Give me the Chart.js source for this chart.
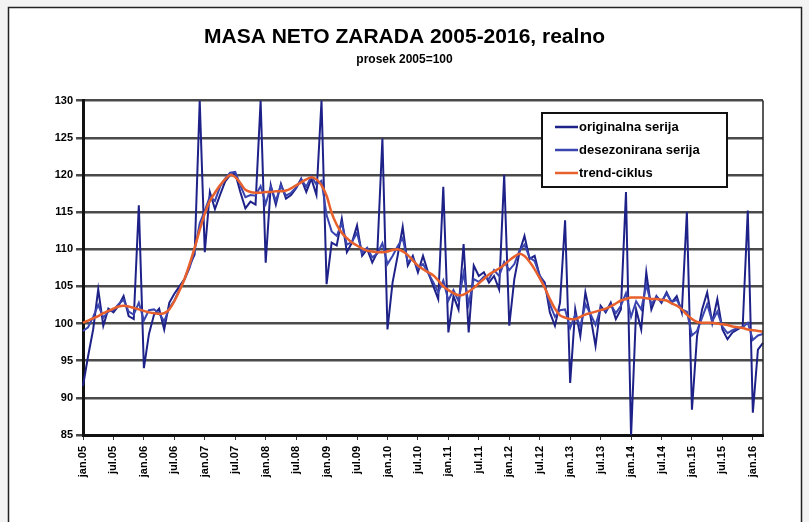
<!DOCTYPE html>
<html>
<head>
<meta charset="utf-8">
<script src="https://cdn.jsdelivr.net/npm/chart.js@4.4.1/dist/chart.umd.min.js"></script>
<style>
  html, body { margin: 0; padding: 0; background: #f3f3f3; }
  #wrap { position: relative; width: 809px; height: 522px; }
</style>
</head>
<body>
<div id="wrap"><canvas id="grafik" width="809" height="522"></canvas></div>
<script>
// godine i meseci (jan 2005 - mar 2016)
const godine = [2005, 2006, 2007, 2008, 2009, 2010, 2011, 2012, 2013, 2014, 2015, 2016];
const meseci = ['jan', 'feb', 'mar', 'apr', 'maj', 'jun', 'jul', 'avg', 'sep', 'okt', 'nov', 'dec'];
const brojMeseci = 135;

// originalna serija (ocitano sa slike)
const originalna = [
  91.6, 95.6, 99.2, 104.6, 99.7, 102.0, 101.5, 102.4, 103.7, 101.0, 100.6, 115.9,
  94.0, 98.6, 101.2, 102.0, 99.2, 102.8, 104.0, 105.0, 106.0, 107.8, 109.3, 130.0,
  109.6, 117.7, 115.4, 117.3, 119.1, 120.0, 120.2, 117.7, 115.5, 116.4, 116.0, 130.0,
  108.2, 118.6, 116.0, 118.8, 116.8, 117.3, 118.2, 119.5, 117.7, 119.5, 117.3, 130.0,
  105.3, 110.9, 110.5, 114.1, 109.6, 110.9, 113.2, 109.1, 110.0, 108.2, 109.6, 124.9,
  99.2, 105.5, 109.1, 113.0, 107.8, 109.1, 106.9, 109.1, 106.9, 105.1, 103.3, 118.4,
  98.8, 103.7, 101.9, 110.7, 98.8, 107.8, 106.4, 106.9, 105.5, 106.4, 104.6, 120.0,
  99.7, 106.0, 109.6, 111.8, 108.7, 109.1, 106.4, 105.5, 101.5, 99.7, 102.8, 113.9,
  92.0, 101.9, 98.3, 104.2, 101.0, 97.0, 102.4, 101.5, 102.8, 100.6, 101.9, 117.7,
  84.8, 101.9, 99.2, 106.9, 101.9, 103.7, 102.8, 104.2, 102.8, 103.7, 101.5, 115.0,
  88.4, 98.3, 101.9, 104.2, 100.1, 103.3, 99.2, 97.9, 98.8, 99.2, 99.6, 115.2,
  88.0, 96.5, 97.4
];

// desezonirana serija
const desezonirana = [
  99.0, 99.5, 100.9, 102.5, 100.8, 101.6, 101.8, 102.6, 103.2, 101.6, 101.2, 102.8,
  100.4, 101.8, 101.9, 101.4, 100.3, 102.1, 103.1, 104.6, 105.9, 107.5, 109.8, 113.5,
  115.2, 117.1, 116.5, 118.4, 119.5, 120.3, 120.4, 118.6, 117.0, 117.3, 117.2, 118.5,
  116.1, 118.4, 116.5, 118.6, 117.2, 117.6, 118.3, 119.4, 118.4, 119.8, 118.7, 119.2,
  114.6, 112.4, 111.8, 113.5, 110.6, 111.0, 112.2, 109.5, 110.2, 108.9, 109.4, 110.8,
  108.0, 109.1, 110.4, 111.5, 108.3, 108.8, 107.4, 108.0, 106.8, 105.6, 104.2, 105.8,
  103.1, 104.5, 103.0, 106.8, 102.6, 106.0, 105.6, 106.3, 106.0, 107.2, 106.4, 108.3,
  107.2, 108.0, 109.8, 110.6, 108.9, 108.4, 106.5, 105.1, 102.6, 100.9, 101.8, 101.9,
  99.4, 101.2, 99.6, 102.6, 101.3, 99.8, 102.1, 101.7, 102.5, 101.4, 102.4, 104.1,
  100.9, 103.0, 101.9, 105.2, 102.6, 103.6, 103.0, 104.0, 102.9, 103.2, 101.9, 101.6,
  98.4, 99.0, 100.8, 102.6, 100.3, 101.6, 99.6, 98.7, 99.1, 99.4, 99.5, 100.1,
  97.8, 98.4, 98.6
];

// trend-ciklus
const trendCiklus = [
  100.1, 100.4, 100.7, 101.0, 101.4, 101.7, 102.0, 102.3, 102.4, 102.3, 102.1, 101.9,
  101.7, 101.5, 101.4, 101.3, 101.4, 101.9, 103.0, 104.4, 106.0, 108.0, 110.2, 112.6,
  114.8, 116.5, 117.6, 118.6, 119.4, 120.0, 119.7, 118.9, 118.0, 117.7, 117.6, 117.6,
  117.7, 117.7, 117.8, 117.8, 117.9, 118.2, 118.6, 119.0, 119.4, 119.7, 119.4, 118.6,
  117.2, 114.9, 113.3, 112.2, 111.5, 110.9, 110.5, 110.1, 109.8, 109.7, 109.6, 109.6,
  109.7, 109.9, 110.0, 109.7, 109.2, 108.5, 107.8, 107.3, 106.9, 106.5, 105.8, 105.0,
  104.5, 104.1, 103.8, 103.9, 104.3, 104.8, 105.4, 106.0, 106.6, 107.0, 107.4, 107.9,
  108.5, 109.0, 109.4, 109.1, 108.3, 107.3, 106.1, 104.8, 103.3, 102.0, 101.1, 100.8,
  100.6, 100.6, 100.9, 101.2, 101.4, 101.6, 101.8, 102.0, 102.3, 102.7, 103.1, 103.3,
  103.5, 103.5, 103.5, 103.4, 103.3, 103.3, 103.2, 103.1, 102.7, 102.4, 101.9, 101.2,
  100.6, 100.2, 100.1, 100.1, 100.1, 100.0, 99.9, 99.8, 99.6, 99.5, 99.4, 99.2,
  99.1, 99.0, 98.9
];

// ose
const yMin = 85;
const yMax = 130;
const yKorak = 5;

// pravljenje oznaka "jan.05"
const oznake = [];
for (let i = 0; i < brojMeseci; i++) {
  const god = godine[Math.floor(i / 12)];
  oznake.push(meseci[i % 12] + '.' + String(god).slice(2));
}

const slova = 'Liberation Sans, Arial, sans-serif';

// beli okvir i ivica slike
const okvir = {
  id: 'okvir',
  beforeDraw(chart) {
    const c = chart.ctx;
    c.save();
    c.fillStyle = '#ffffff';
    c.fillRect(8, 7, 794, 520);
    c.strokeStyle = '#222';
    c.lineWidth = 1.5;
    c.strokeRect(8.5, 7.5, 793, 530);
    c.restore();
  }
};

// legenda u uglu grafika
const legenda = {
  id: 'legenda',
  afterDraw(chart) {
    const c = chart.ctx;
    const x = 542, y = 113, w = 185, h = 74;
    c.save();
    c.fillStyle = '#fff';
    c.fillRect(x, y, w, h);
    c.strokeStyle = '#111';
    c.lineWidth = 2;
    c.strokeRect(x, y, w, h);
    c.font = 'bold 13px ' + slova;
    c.textBaseline = 'middle';
    chart.data.datasets.forEach((ds, i) => {
      const ly = y + 14 + i * 23;
      c.strokeStyle = ds.borderColor;
      c.lineWidth = 2.5;
      c.beginPath();
      c.moveTo(x + 13, ly);
      c.lineTo(x + 36, ly);
      c.stroke();
      c.fillStyle = '#000';
      c.fillText(ds.label, x + 37, ly);
    });
    c.restore();
  }
};

// desna ivica podrucja crtanja
const ivica = {
  id: 'ivica',
  afterDatasetsDraw(ch) {
    const a = ch.chartArea;
    const c = ch.ctx;
    c.save();
    c.strokeStyle = '#222';
    c.lineWidth = 1.5;
    c.beginPath();
    c.moveTo(a.right, a.top);
    c.lineTo(a.right, a.bottom);
    c.stroke();
    c.restore();
  }
};

const chart = new Chart(document.getElementById('grafik'), {
  type: 'line',
  data: {
    labels: oznake,
    datasets: [{
      label: 'originalna serija',
      data: originalna,
      borderColor: '#1e2288',
      borderWidth: 2,
      pointRadius: 0,
      tension: 0,
      order: 3
    }, {
      label: 'desezonirana serija',
      data: desezonirana,
      borderColor: '#3a45b0',
      borderWidth: 2,
      pointRadius: 0,
      tension: 0,
      order: 2
    }, {
      label: 'trend-ciklus',
      data: trendCiklus,
      borderColor: '#e8602c',
      borderWidth: 2.5,
      pointRadius: 0,
      tension: 0.3,
      order: 1
    }]
  },
  options: {
    responsive: false,
    animation: false,
    layout: { padding: 0 },
    plugins: {
      legend: { display: false },
      tooltip: { enabled: false },
      title: {
        display: true,
        text: 'MASA NETO ZARADA 2005-2016, realno',
        color: '#000',
        font: { family: slova, size: 21, weight: 'bold' },
        padding: { top: 25, bottom: 1 }
      },
      subtitle: {
        display: true,
        text: 'prosek 2005=100',
        color: '#000',
        font: { family: slova, size: 12, weight: 'bold' },
        padding: { top: 1, bottom: 34 }
      }
    },
    scales: {
      x: {
        offset: false,
        border: { display: true, color: '#111', width: 3 },
        grid: {
          drawOnChartArea: false,
          color: '#333',
          tickLength: 5,
          lineWidth: 1
        },
        ticks: {
          autoSkip: false,
          minRotation: 90,
          maxRotation: 90,
          color: '#000',
          padding: 6,
          font: { family: slova, size: 11, weight: 'bold' },
          callback: (v, i) => (i % 6 === 0 ? oznake[i] : null)
        },
        afterFit(scale) { scale.height = 87; }
      },
      y: {
        min: yMin,
        max: yMax,
        border: { display: true, color: '#111', width: 3 },
        grid: {
          color: '#4a4a4a',
          lineWidth: 2.5,
          tickLength: 7
        },
        ticks: {
          stepSize: yKorak,
          color: '#000',
          padding: 3,
          font: { family: slova, size: 11, weight: 'bold' }
        },
        afterFit(scale) { scale.width = 83; }
      },
      // prazna desna osa samo za razmak do ivice
      yDesno: {
        position: 'right',
        grid: { display: false },
        border: { display: false },
        ticks: { display: false },
        afterFit(scale) { scale.width = 46; }
      }
    }
  },
  plugins: [okvir, legenda, ivica]
});
</script>
</body>
</html>
